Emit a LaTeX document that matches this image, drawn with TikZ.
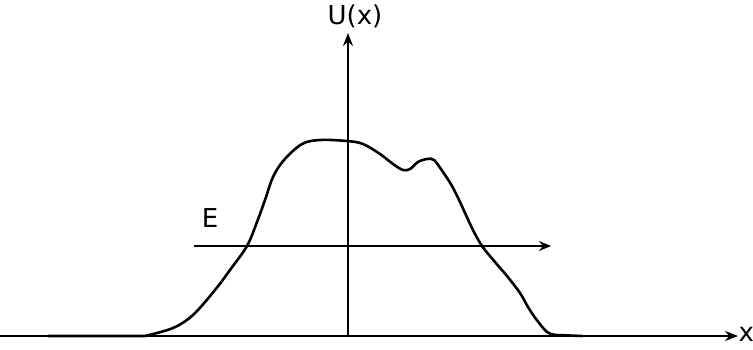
\documentclass[tikz,border=0pt]{standalone}
\usepackage{fontspec}
\setmainfont{DejaVu Sans}
\usetikzlibrary{arrows.meta}
\begin{document}
\begin{tikzpicture}[x=1pt,y=-1pt,
  axisline/.style={line width=1.6pt,-{Stealth[length=13pt,width=10pt]}},
  energy/.style={line width=1.4pt,-{Stealth[length=12pt,width=10pt]}},
  potential/.style={line width=2.6pt,line join=round,line cap=round},
  lbl/.style={font=\fontsize{26}{30}\selectfont,inner sep=0pt}]
\useasboundingbox (0,0) rectangle (753,349);
\coordinate (xs) at (0,336);
\coordinate (xe) at (738,336);
\coordinate (ys) at (348,336);
\coordinate (ye) at (348,33);
\coordinate (es) at (194,246);
\coordinate (ee) at (551,246);
\draw[axisline] (xs) -- (xe);
\draw[axisline] (ys) -- (ye);
\draw[energy] (es) -- (ee);
\node[lbl,anchor=west] (xl) at (738.5,334) {x};
\node[lbl] (ul) at (355,16) {U(x)};
\node[lbl] (el) at (210,218) {E};
\draw[potential] (48,336) -- (145,336)
  plot[smooth,tension=0.55] coordinates {(145,336) (173,328) (193,315) (215,290) (230,270) (247,246) (257,222) (265,200) (273,177) (284,160) (302,144) (320,140) (347,141) (363,144) (380,154) (393,164) (403,170) (410,169) (418,162) (427,159) (434,160) (443,172) (452,186) (460,202) (472,228) (482,246) (495,262) (507,276) (520,293) (528,307) (536,319) (547,332) (556,335)}
  -- (582,336);
\end{tikzpicture}
\end{document}
